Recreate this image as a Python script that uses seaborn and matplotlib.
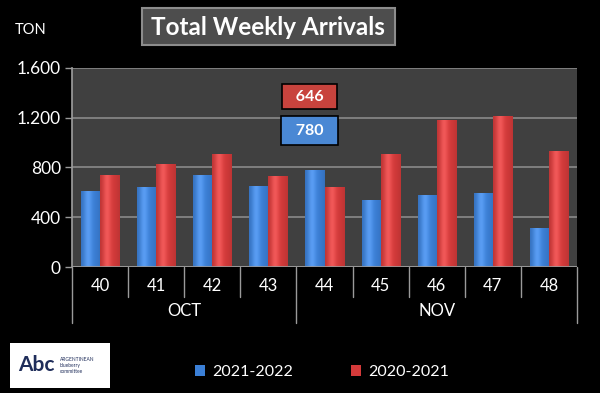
import numpy as np
import pandas as pd
import matplotlib
matplotlib.use('Agg')
import matplotlib.pyplot as plt
import matplotlib.transforms as mtransforms
from matplotlib.patches import FancyBboxPatch, Rectangle
from matplotlib.ticker import FuncFormatter
import seaborn as sns

# data (tons per week)
weeks = ['40', '41', '42', '43', '44', '45', '46', '47', '48']
months = ['OCT', 'OCT', 'OCT', 'OCT', 'NOV', 'NOV', 'NOV', 'NOV', 'NOV']
season_2122 = [615, 640, 740, 655, 780, 535, 575, 595, 315]
season_2021 = [740, 830, 905, 735, 646, 905, 1185, 1210, 930]
seasons = ['2021-2022', '2020-2021']
yticks = [0, 400, 800, 1200, 1600]

df = pd.DataFrame({
    'week': weeks * 2,
    'tons': season_2122 + season_2021,
    'season': [seasons[0]] * len(weeks) + [seasons[1]] * len(weeks),
})

sns.set_theme(style='dark')
plt.rcParams['font.family'] = ['Lato', 'DejaVu Sans']

blue = '#3b7fd6'
red = '#d43a3a'

fig = plt.figure(figsize=(6, 3.93), dpi=100, facecolor='black')
ax = fig.add_axes([0.12, 0.3206, 0.8417, 0.5064])
ax.set_facecolor('#404040')

sns.barplot(data=df, x='week', y='tons', hue='season', order=weeks,
            hue_order=seasons, palette=[blue, red], saturation=1,
            width=0.68, ax=ax, legend=True, zorder=3,
            edgecolor='none', linewidth=0)

# soft horizontal shading on each bar
grad = np.linspace(0, 1, 64)
shade = 0.55 + 0.45 * np.sin(np.pi * (0.15 + 0.7 * grad))
for p in ax.patches:
    if p.get_height() <= 0:
        continue
    x0, w, h = p.get_x(), p.get_width(), p.get_height()
    base = np.array(matplotlib.colors.to_rgb(p.get_facecolor()))
    img = (base[None, :] * shade[:, None] + (1 - shade[:, None]) * base * 0.55)
    img = np.clip(img + 0.12 * np.exp(-((grad - 0.35) / 0.2) ** 2)[:, None], 0, 1)
    im = ax.imshow(img[None, :, :], extent=[x0, x0 + w, 0, h], aspect='auto',
                   zorder=3.5, interpolation='bilinear')
    im.set_clip_path(p)

ax.set_xlim(-0.5, len(weeks) - 0.5)
ax.set_ylim(0, 1600)
ax.set_yticks(yticks)
ax.yaxis.set_major_formatter(FuncFormatter(lambda v, _: f'{int(v):,}'.replace(',', '.')))
ax.grid(axis='y', color='#8a8a8a', linewidth=1.2, zorder=0)
ax.grid(axis='x', visible=False)
ax.set_axisbelow(True)
for s in ['top', 'right', 'bottom']:
    ax.spines[s].set_visible(False)
ax.spines['left'].set_color('#9a9a9a')
ax.tick_params(axis='y', colors='white', labelsize=12.5, length=5, width=1,
               direction='out', left=True, color='#9a9a9a', pad=3)
ax.tick_params(axis='x', length=0, labelsize=12, colors='white', pad=8)
ax.set_xlabel('')
ax.set_ylabel('')
ax.axhline(0, color='#9a9a9a', linewidth=1.2, zorder=4)

# two level category axis
trans = mtransforms.blended_transform_factory(ax.transData, ax.transAxes)
month_bounds = [i for i in range(1, len(months)) if months[i] != months[i - 1]]
for i in range(len(weeks) + 1):
    edge = i - 0.5
    long_line = i in (0, len(weeks)) or i in month_bounds
    ax.plot([edge, edge], [0, -0.281 if long_line else -0.151], transform=trans,
            color='#9a9a9a', linewidth=1, clip_on=False)
starts = [0] + month_bounds
ends = month_bounds + [len(months)]
for a, b in zip(starts, ends):
    ax.text((a + b - 1) / 2, -0.222, months[a], transform=trans, ha='center',
            va='center', color='white', fontsize=12)

# data labels for week 44
i44 = weeks.index('44')
ax.text(i44 - 0.27, 1370, f'  {season_2021[i44]}  ', ha='center', va='center',
        color='white', fontsize=11.5, fontweight='bold',
        bbox=dict(boxstyle='square,pad=0.35', fc='#c8433d', ec='black', lw=1.2))
ax.text(i44 - 0.27, 1097, f'  {season_2122[i44]}  ', ha='center', va='center',
        color='white', fontsize=11.5, fontweight='bold',
        bbox=dict(boxstyle='square,pad=0.45', fc='#4a88d4', ec='black', lw=1.2))

# legend
handles, labels = ax.get_legend_handles_labels()
ax.get_legend().remove()
fig.legend(handles, labels, loc='center', bbox_to_anchor=(0.537, 0.053), ncol=2,
           frameon=False, fontsize=11.5, labelcolor='white', handlelength=0.6,
           handleheight=0.6, handletextpad=0.5, columnspacing=3.6)

# title box
fig.patches.append(FancyBboxPatch((0.237, 0.886), 0.421, 0.094,
                                  boxstyle='square,pad=0', transform=fig.transFigure,
                                  fc='#4d4d4d', ec='#8c8c8c', lw=1.5))
fig.text(0.447, 0.929, 'Total Weekly Arrivals', ha='center', va='center',
         color='white', fontsize=17.5, fontweight='bold')
fig.text(0.025, 0.924, 'TON', ha='left', va='center', color='white', fontsize=10.5)

# logo placeholder
fig.patches.append(Rectangle((0.017, 0.013), 0.167, 0.114, transform=fig.transFigure,
                             fc='white', ec='none'))
fig.text(0.03, 0.07, 'Abc', ha='left', va='center', color='#1f2d5a',
         fontsize=15, fontweight='bold')
fig.text(0.1, 0.07, 'ARGENTINEAN\nblueberry\ncommittee', ha='left', va='center',
         color='#1f2d5a', fontsize=3.5, linespacing=1.3)

fig.savefig('out.png', dpi=100, facecolor='black')
